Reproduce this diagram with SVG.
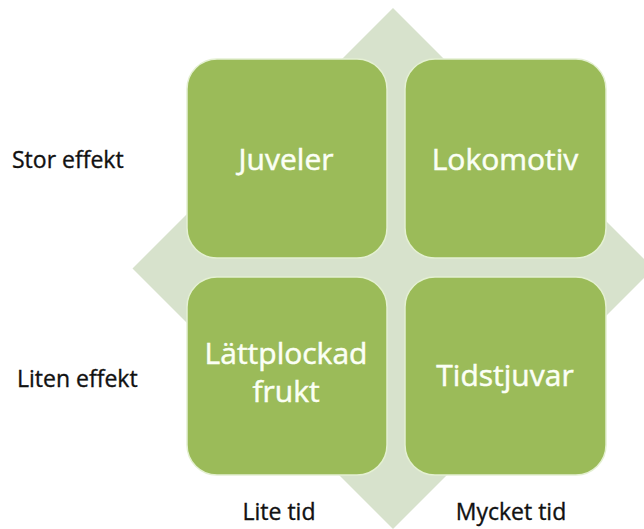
<svg xmlns="http://www.w3.org/2000/svg" width="644" height="529" viewBox="0 0 644 529">
<style>
.box{fill:#9bbb59;stroke:#e4f0d2;stroke-width:1.5}
.bt{font-family:"Open Sans","Liberation Sans",sans-serif;font-size:30px;fill:#fbfff5;stroke:#fbfff5;stroke-width:0.5;text-anchor:middle}
.lb{font-family:"Open Sans","Liberation Sans",sans-serif;font-size:23px;fill:#111111;stroke:#111111;stroke-width:0.35}
</style>
<rect width="644" height="529" fill="#ffffff"/>
<polygon id="diamond" points="393,8 653.5,268.5 393,529 132.5,268.5" fill="#d7e2cc"/>
<g id="connectors"/>
<g id="juveler">
<rect class="box" x="187" y="59" width="200" height="199" rx="30"/>
<text class="bt" x="286" y="170">Juveler</text>
</g>
<g id="lokomotiv">
<rect class="box" x="405" y="59" width="201" height="199" rx="30"/>
<text class="bt" x="505" y="170">Lokomotiv</text>
</g>
<g id="lattplockad">
<rect class="box" x="187" y="277" width="200" height="198" rx="30"/>
<text class="bt" x="286" y="364">Lättplockad</text>
<text class="bt" x="286" y="402">frukt</text>
</g>
<g id="tidstjuvar">
<rect class="box" x="405" y="277" width="201" height="198" rx="30"/>
<text class="bt" x="505" y="386">Tidstjuvar</text>
</g>
<g id="labels">
<text class="lb" x="12" y="168">Stor effekt</text>
<text class="lb" x="17" y="387">Liten effekt</text>
<text class="lb" x="279" y="520" text-anchor="middle">Lite tid</text>
<text class="lb" x="511" y="520" text-anchor="middle">Mycket tid</text>
</g>
</svg>
